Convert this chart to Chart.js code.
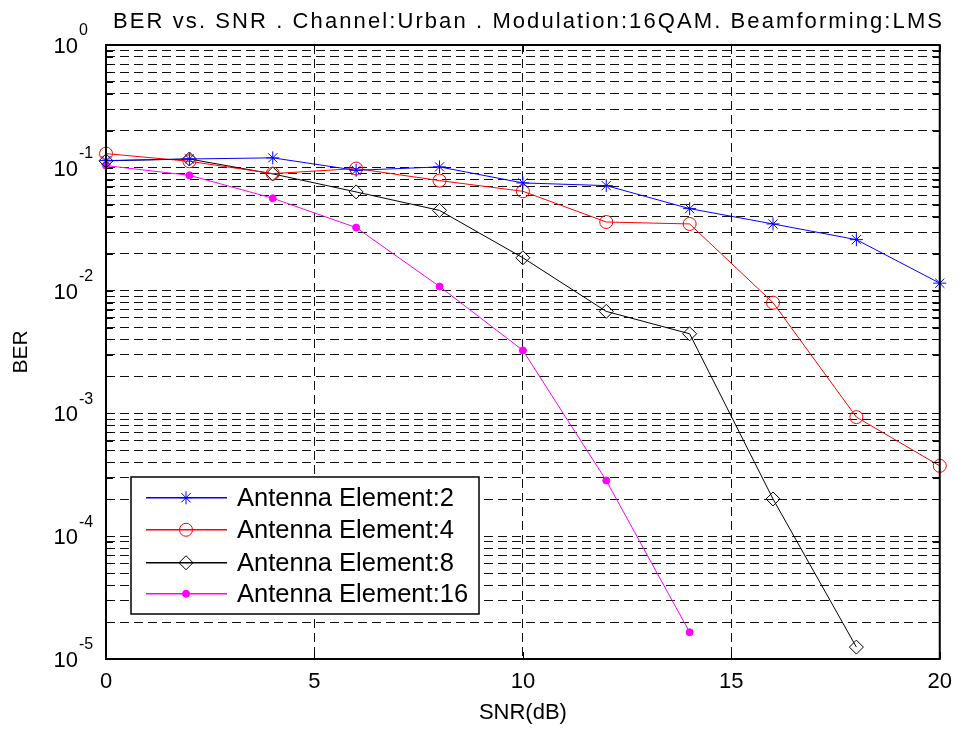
<!DOCTYPE html>
<html>
<head>
<meta charset="utf-8">
<script src="https://cdn.jsdelivr.net/npm/chart.js@4/dist/chart.umd.min.js"></script>
<style>
  body { margin: 0; background: #fff; }
  #wrap { width: 962px; height: 729px; }
</style>
</head>
<body>
<div id="wrap"><canvas id="ber" width="962" height="729"></canvas></div>
<script>
// SNR in dB
const snr = [0, 2, 4, 6, 8, 10, 12, 14, 16, 18, 20]

// BER, one array per antenna count
const ber2 = [0.1145, 0.118, 0.1205, 0.0954, 0.1017, 0.0753, 0.0716, 0.0465, 0.0349, 0.026, 0.0115]
const ber4 = [0.1305, 0.113, 0.0897, 0.0986, 0.0787, 0.0644, 0.0362, 0.0349, 0.00797, 0.000933, 0.000374]
const ber8 = [0.114, 0.118, 0.0892, 0.0636, 0.045, 0.0185, 0.00677, 0.00445, 0.000201, 0.0000125]
const ber16 = [0.1042, 0.0869, 0.0565, 0.0326, 0.0108, 0.00326, 0.000284, 0.0000165]

const seriesLabels = ['Antenna Element:2', 'Antenna Element:4', 'Antenna Element:8', 'Antenna Element:16']
const seriesColors = ['#0000ff', '#ff0000', '#000000', '#ff00ff']
const xTicks = [0, 5, 10, 15, 20]
const yExponents = [-5, -4, -3, -2, -1, 0]

const titleText = 'BER vs. SNR . Channel:Urban . Modulation:16QAM. Beamforming:LMS'
const FONT = '"Liberation Sans", Arial, Helvetica, sans-serif'

const pairs = (ys) => ys.map((v, i) => ({ x: snr[i], y: v }))

// log grid: 1..9 x 10^e, plus the top decade
const yGridValues = []
yExponents.slice(0, -1).forEach(e => {
  for (let s = 1; s <= 9; s++) yGridValues.push(Number((s * Math.pow(10, e)).toPrecision(3)))
})
yGridValues.push(1)

// title, box, inner ticks, y labels with exponents, legend
const matlabLook = {
  id: 'matlabLook',
  afterDraw(chart) {
    const ctx = chart.ctx
    const a = chart.chartArea
    const xs = chart.scales.x
    const ys = chart.scales.y

    ctx.save()
    // title
    ctx.fillStyle = '#000'
    ctx.font = '22px ' + FONT
    ctx.textBaseline = 'middle'
    ctx.textAlign = 'left'
    let w = ctx.measureText(titleText).width
    const want = 829
    if ('letterSpacing' in ctx && w < want) {
      const sp = (want - w) / (titleText.length - 1)
      ctx.letterSpacing = sp.toFixed(2) + 'px'
      w = want
    }
    ctx.fillText(titleText, 527.5 - w / 2, 22)
    if ('letterSpacing' in ctx) ctx.letterSpacing = '0px'

    // inner tick marks
    ctx.strokeStyle = '#000'
    ctx.lineWidth = 1
    ctx.setLineDash([])
    ctx.beginPath()
    yGridValues.forEach(v => {
      const y = Math.round(ys.getPixelForValue(v)) + 0.5
      ctx.moveTo(a.left, y); ctx.lineTo(a.left + 7, y)
      ctx.moveTo(a.right, y); ctx.lineTo(a.right - 7, y)
    })
    xTicks.forEach(v => {
      const x = Math.round(xs.getPixelForValue(v)) + 0.5
      ctx.moveTo(x, a.bottom); ctx.lineTo(x, a.bottom - 7)
      ctx.moveTo(x, a.top); ctx.lineTo(x, a.top + 7)
    })
    ctx.stroke()

    // axes box
    ctx.lineWidth = 2
    ctx.strokeRect(a.left, a.top, a.right - a.left, a.bottom - a.top)

    // y labels 10^e
    yExponents.forEach(e => {
      const y = ys.getPixelForValue(Math.pow(10, e))
      ctx.fillStyle = '#000'
      ctx.font = '22px ' + FONT
      ctx.textAlign = 'right'
      ctx.textBaseline = 'middle'
      ctx.fillText('10', 78, y + 2)
      ctx.font = '16px ' + FONT
      ctx.textAlign = 'left'
      ctx.fillText(String(e), 79, y - 14)
    })

    // legend
    const box = { l: 131, t: 477, r: 479, b: 614 }
    ctx.fillStyle = '#fff'
    ctx.fillRect(box.l, box.t, box.r - box.l, box.b - box.t)
    ctx.lineWidth = 1.5
    ctx.strokeStyle = '#000'
    ctx.strokeRect(box.l, box.t, box.r - box.l, box.b - box.t)
    const rows = [497, 529, 562, 593]
    chart.data.datasets.forEach((ds, i) => {
      const y = rows[i]
      const col = seriesColors[i]
      ctx.fillStyle = col
      ctx.fillRect(146, y, 81, 1.5)
      ctx.save()
      ctx.setLineDash([])
      ctx.fillStyle = ds.pointBackgroundColor
      ctx.strokeStyle = col
      ctx.lineWidth = 1
      Chart.helpers.drawPoint(ctx, {
        pointStyle: ds.pointStyle,
        radius: ds.pointRadius,
        rotation: 0,
        borderWidth: 1
      }, 186, y + 0.75)
      ctx.restore()
      ctx.fillStyle = '#000'
      ctx.font = '25.5px ' + FONT
      ctx.textAlign = 'left'
      ctx.textBaseline = 'middle'
      ctx.fillText(ds.label, 237, y + 2)
    })
    ctx.restore()
  }
}

const gridColor = '#111'

const berConfig = {
  type: 'line',
  data: {
    datasets: [
      {
        label: seriesLabels[0],
        data: pairs(ber2),
        borderColor: seriesColors[0],
        pointBackgroundColor: 'rgba(0,0,0,0)',
        pointStyle: 'star',
        pointRadius: 6.5,
      },
      {
        label: seriesLabels[1],
        data: pairs(ber4),
        borderColor: seriesColors[1],
        pointBackgroundColor: 'rgba(0,0,0,0)',
        pointStyle: 'circle',
        pointRadius: 6.5,
      },
      {
        label: seriesLabels[2],
        data: pairs(ber8),
        borderColor: seriesColors[2],
        pointBackgroundColor: 'rgba(0,0,0,0)',
        pointStyle: 'rectRot',
        pointRadius: 7,
      },
      {
        label: seriesLabels[3],
        data: pairs(ber16),
        borderColor: seriesColors[3],
        pointBackgroundColor: seriesColors[3],
        pointStyle: 'circle',
        pointRadius: 3.5,
      },
    ],
  },
  options: {
    responsive: false,
    animation: false,
    clip: false,
    datasets: {
      line: { borderWidth: 1, pointBorderWidth: 1, tension: 0, clip: false }
    },
    layout: { padding: { top: 45, right: 20, bottom: 0, left: 0 } },
    plugins: {
      legend: { display: false },
      title: { display: false },
      tooltip: { enabled: false },
    },
    scales: {
      x: {
        type: 'linear',
        min: 0,
        max: 20,
        afterFit: (s) => { s.height = 70 },
        afterBuildTicks: (s) => { s.ticks = xTicks.map(v => ({ value: v })) },
        ticks: {
          color: '#000',
          font: { family: FONT, size: 22 },
          padding: 10,
          maxRotation: 0,
        },
        grid: { color: gridColor, lineWidth: 1, drawTicks: false },
        border: { display: false, dash: [9, 5] },
        title: {
          display: true,
          text: 'SNR(dB)',
          color: '#000',
          font: { family: FONT, size: 22 },
          padding: { top: 0, bottom: 3 },
        },
      },
      y: {
        type: 'logarithmic',
        min: 0.00001,
        max: 1,
        afterFit: (s) => { s.width = 106 },
        afterBuildTicks: (s) => { s.ticks = yGridValues.map(v => ({ value: v })) },
        ticks: { display: false, autoSkip: false },
        grid: { color: gridColor, lineWidth: 1, drawTicks: false },
        border: { display: false, dash: [9, 5] },
        title: {
          display: true,
          text: 'BER',
          color: '#000',
          font: { family: FONT, size: 21 },
          padding: { top: 9, bottom: 0 },
        },
      },
    },
  },
  plugins: [matlabLook],
}

const berCtx = document.getElementById('ber')
window.berChart = new Chart(berCtx, berConfig)
</script>
</body>
</html>
